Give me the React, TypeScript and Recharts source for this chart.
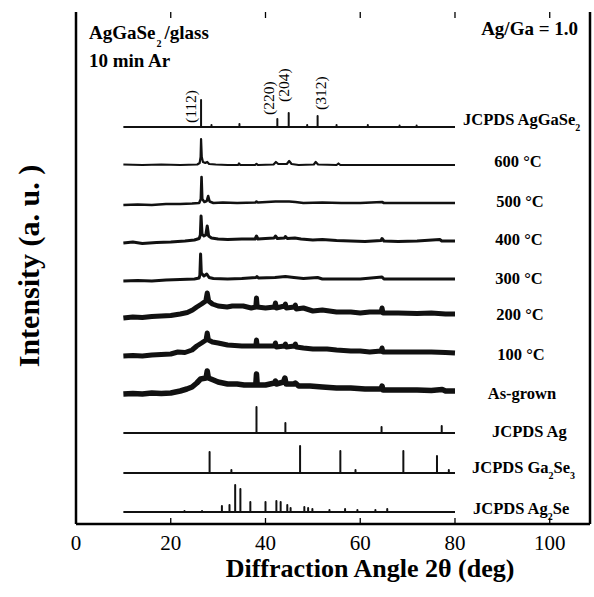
import React from 'react';
import { LineChart, Line, XAxis, YAxis } from 'recharts';

const SERIF = "'Liberation Serif', 'Times New Roman', Times, serif";

const TWO_THETA_TICKS = [0, 20, 40, 60, 80, 100];
const SCAN_RANGE: [number, number] = [10, 80];

// Reference stick patterns: [2θ, relative intensity, (hkl) tag]
type Stick = [number, number, string?];
// Measured scans: [2θ, intensity above the trace baseline]
type Pt = [number, number];

const JCPDS_AGGASE2: Stick[] = [
  [26.4, 27, '(112)'], [28.6, 2], [34.5, 3], [42.5, 8, '(220)'], [44.9, 14, '(204)'],
  [48.8, 2], [51.0, 11, '(312)'], [55.0, 2], [61.6, 2], [68.3, 1.5], [71.9, 1.5],
];

const SCAN_600: Pt[] = [
  [10, 0.5], [14, 0], [18, 0.5], [22, 0], [25.6, 0.5], [26.1, 2], [26.3, 8], [26.4, 26], [26.55, 8],
  [26.8, 3], [27.3, 2], [27.7, 3], [28.1, 1], [29.5, 0.5], [32, 0], [34.2, 0], [34.4, 1.5], [34.7, 0],
  [37.8, 0], [38.1, 1.2], [38.4, 0], [41.7, 0.5], [42.2, 3], [42.7, 1], [44.5, 1], [45.0, 4], [45.5, 1],
  [47, 0], [50.2, 0.5], [50.6, 3], [51.1, 0.5], [55, 0], [55.4, 1.5], [55.8, 0], [62, 0], [70, 0], [80, 0],
];

const SCAN_500: Pt[] = [
  [10, -2], [13, -1.5], [16, -2], [19, -1], [22, -1], [24.5, -0.5], [26, 0], [26.35, 4], [26.5, 26],
  [26.65, 4], [27.1, 1], [27.6, 2], [27.9, 7], [28.2, 1.5], [29, 0], [31, 0.5], [34, 0], [37.9, 0.5],
  [38.1, 1.5], [38.4, 0.5], [42.1, 1.5], [44.2, 1.5], [45, 1.5], [46.3, 1], [48, 0], [52, 0.5], [56, 0],
  [60, 0], [64.6, 1], [65, 0], [70, 0], [75, 0], [80, 0],
];

const SCAN_400: Pt[] = [
  [10, -2], [12, -1], [14, -2.5], [17, -1.5], [20, -1], [23, 0], [25, 1], [26, 2.5], [26.25, 6],
  [26.4, 25], [26.6, 7], [27.0, 5], [27.4, 6], [27.7, 15], [28.0, 5], [28.6, 3], [30, 2], [32, 1.5],
  [35, 2], [37.8, 2], [38.1, 5], [38.4, 2], [40, 2.5], [41.8, 3], [42.1, 5], [42.5, 2.5], [44, 3],
  [44.2, 4.5], [44.6, 2.5], [46.2, 3], [47.5, 2], [50, 1], [52, 1.5], [55, 0.5], [58, 0], [61, -0.5],
  [64.4, 0.5], [64.6, 2.5], [65, 0], [68, -0.5], [72, 0], [76.8, 1.5], [77.2, 0], [80, 0],
];

const SCAN_300: Pt[] = [
  [10, -2], [13, -1.5], [16, -2], [19, -1], [22, -0.5], [25, 0], [26, 1], [26.15, 4], [26.3, 25],
  [26.45, 6], [27, 3], [27.6, 5], [28.1, 1.5], [29, 0.5], [32, 0], [35, 0.5], [38, 1.5], [38.2, 2.5],
  [38.5, 1], [42, 1.5], [44.2, 2.5], [46, 1.5], [48, 0.5], [51, 1.5], [52, 0], [56, 0], [60, 0],
  [64.6, 2], [65, 0], [70, 0], [75, 0], [80, 0],
];

const SCAN_200: Pt[] = [
  [10, -4], [12, -3], [14, -3.5], [16, -2.5], [18, -2], [20, -1.5], [22, 0], [23.5, 1.5], [24.6, 4],
  [25.5, 7], [26.5, 10], [27.4, 13], [27.7, 21], [28.0, 13], [28.8, 10], [30, 8], [31.9, 7], [33, 8],
  [35.3, 8], [37, 6], [37.95, 7], [38.1, 16], [38.25, 7], [40, 6], [41.9, 7], [42.1, 11], [42.3, 6],
  [44, 8], [44.2, 10], [44.4, 6], [46.1, 7], [46.3, 9], [46.5, 5], [48, 6], [50, 3], [52, 4], [55, 2],
  [58, 2], [60, 1], [62, 2], [64.4, 2], [64.6, 6], [64.8, 1], [68, 1], [72, 0.5], [75, 1], [78, 0], [80, 0],
];

const SCAN_100: Pt[] = [
  [10, -3], [12, -2.5], [14, -3], [16, -2], [18, -1.5], [20, -1], [21.5, 1], [23, 0.5], [24.5, 3],
  [25.5, 7], [26.5, 10], [27.45, 13], [27.7, 20], [27.95, 13], [28.8, 11], [30, 10], [32, 8], [35, 7],
  [37.95, 7], [38.1, 13], [38.25, 7], [40, 7], [41.9, 7], [42.1, 10], [42.3, 6], [44, 7], [44.2, 9],
  [44.4, 6], [46.1, 7], [46.3, 9], [46.5, 6], [48, 5], [50, 4], [53, 4], [55, 3], [58, 2], [60, 2],
  [62, 1], [64.4, 2], [64.6, 5], [64.8, 1], [68, 1], [72, 1], [75, 1], [78, 0.5], [80, 0],
];

const SCAN_AS_GROWN: Pt[] = [
  [10, -3], [12, -2.5], [14, -3], [16, -2], [18, -2.5], [20, -2], [22, 0], [23.4, 2], [24.5, 4],
  [25.5, 8], [26.3, 12], [27.45, 13], [27.7, 20], [27.95, 13], [29, 11], [30, 9], [32, 7], [34, 7],
  [35.5, 6], [37.95, 6], [38.1, 17], [38.25, 6], [40, 6], [41.9, 8], [42.1, 10], [42.3, 7], [43.8, 9],
  [44.1, 13], [44.35, 7], [46, 7], [46.3, 8], [47, 5], [49.4, 5], [52, 4], [55, 3], [58, 3], [61, 2],
  [64.4, 2], [64.6, 5], [64.8, 1], [68.8, 1], [72, 1], [75, 0.5], [77.3, 1.5], [78, 0], [80, 0],
];

const JCPDS_AG: Stick[] = [[38.1, 26], [44.2, 10], [64.5, 6], [77.2, 7]];

const JCPDS_GA2SE3: Stick[] = [
  [28.2, 21], [32.8, 3], [47.3, 27], [55.8, 22], [59.0, 3], [69.1, 22], [76.2, 17], [78.7, 3],
];

const JCPDS_AG2SE: Stick[] = [
  [22.9, 1], [26.6, 1], [30.8, 6], [32.4, 7], [33.6, 27], [34.7, 23], [36.8, 10], [40.0, 10],
  [42.3, 11], [43.2, 10], [44.6, 7], [45.3, 4], [48.2, 5], [49.0, 4], [49.9, 3], [53.5, 2],
  [56.8, 3], [59.4, 2], [63.2, 2], [65.7, 3],
];

const SERIES_NAMES = [
  'JCPDS AgGaSe_2', '600 °C', '500 °C', '400 °C', '300 °C', '200 °C', '100 °C',
  'As-grown', 'JCPDS  Ag', 'JCPDS Ga_2Se_3', 'JCPDS Ag_2Se',
];

type P = { x: number; y: number; hkl?: string };

const fromSticks = (sticks: Stick[], base: number): P[] => {
  const pts: P[] = [{ x: SCAN_RANGE[0], y: base }];
  sticks.forEach(([t, h, hkl]) => {
    pts.push({ x: t, y: base }, { x: t, y: base + h, hkl }, { x: t, y: base });
  });
  pts.push({ x: SCAN_RANGE[1], y: base });
  return pts;
};

const fromScan = (scan: Pt[], base: number): P[] => scan.map(([t, v]) => ({ x: t, y: base + v }));

// Stacking offsets (trace baselines), line weights and label placement for each trace
const TRACES = [
  { pts: (b: number) => fromSticks(JCPDS_AGGASE2, b), base: 397, width: 2, lx: 8, ly: -8, anchor: 'start' },
  { pts: (b: number) => fromScan(SCAN_600, b), base: 359, width: 2.2, lx: 63, ly: -4, anchor: 'middle' },
  { pts: (b: number) => fromScan(SCAN_500, b), base: 321, width: 2.6, lx: 65, ly: -2, anchor: 'middle' },
  { pts: (b: number) => fromScan(SCAN_400, b), base: 283, width: 3, lx: 64, ly: -2, anchor: 'middle' },
  { pts: (b: number) => fromScan(SCAN_300, b), base: 245, width: 3, lx: 64, ly: -1, anchor: 'middle' },
  { pts: (b: number) => fromScan(SCAN_200, b), base: 210, width: 5, lx: 65, ly: 0, anchor: 'middle' },
  { pts: (b: number) => fromScan(SCAN_100, b), base: 171, width: 5, lx: 66, ly: 1, anchor: 'middle' },
  { pts: (b: number) => fromScan(SCAN_AS_GROWN, b), base: 133, width: 5.5, lx: 67, ly: 2, anchor: 'middle' },
  { pts: (b: number) => fromSticks(JCPDS_AG, b), base: 91, width: 2, lx: 37, ly: -2, anchor: 'start' },
  { pts: (b: number) => fromSticks(JCPDS_GA2SE3, b), base: 51, width: 2, lx: 17, ly: -6, anchor: 'start' },
  { pts: (b: number) => fromSticks(JCPDS_AG2SE, b), base: 12, width: 2, lx: 18, ly: -4, anchor: 'start' },
];

// Offset of each rotated (hkl) tag from the top of its stick
const HKL_SHIFT: Record<string, [number, number]> = {
  '(112)': [-11, 23],
  '(220)': [-9, -4],
  '(204)': [-5, -11],
  '(312)': [3, -6],
};

const PLOT_HEIGHT = 512;

const renderName = (name: string) => {
  const parts = name.split(/(_\d)/).filter((s) => s.length > 0);
  let sub = false;
  return parts.map((p, i) => {
    if (p.startsWith('_')) {
      const el = (
        <tspan key={i} dy={sub ? 0 : 8} fontSize={10}>
          {p.slice(1)}
        </tspan>
      );
      sub = true;
      return el;
    }
    const el = (
      <tspan key={i} dy={sub ? -8 : 0}>
        {p}
      </tspan>
    );
    sub = false;
    return el;
  });
};

// Inward tick marks on the bottom axis, mirrored on the top frame edge
const BottomTick = (props: any) => {
  const { x, y, payload } = props;
  const top = y - PLOT_HEIGHT;
  return (
    <g>
      <line x1={x} y1={y} x2={x} y2={y - 6} stroke="#000" strokeWidth={1.3} />
      {payload.value > 0 && <line x1={x} y1={top} x2={x} y2={top + 6} stroke="#000" strokeWidth={1.3} />}
      <text x={x} y={y + 26} textAnchor="middle" fontSize={21} fontFamily={SERIF} fill="#000">
        {payload.value}
      </text>
    </g>
  );
};

const XTitle = () => (
  <text x={370} y={577} textAnchor="middle" fontSize={26} fontWeight="bold" fontFamily={SERIF} fill="#000">
    Diffraction Angle 2θ (deg)
  </text>
);

const YTitle = () => (
  <text
    x={28}
    y={266}
    transform="rotate(-90, 28, 266)"
    textAnchor="middle"
    dominantBaseline="central"
    fontSize={30}
    fontWeight="bold"
    fontFamily={SERIF}
    fill="#000"
  >
    Intensity (a. u. )
  </text>
);

export default function App() {
  const series = TRACES.map((t, i) => ({ ...t, name: SERIES_NAMES[i], data: t.pts(t.base) }));

  const makeDot = (s: (typeof series)[number]) => (props: any) => {
    const { cx, cy, index, payload } = props;
    const key = `${s.name}-${index}`;
    if (index === s.data.length - 1) {
      return (
        <text
          key={key}
          x={cx + s.lx}
          y={cy + s.ly}
          textAnchor={s.anchor as any}
          dominantBaseline="central"
          fontSize={16.5}
          fontWeight="bold"
          fontFamily={SERIF}
          fill="#000"
        >
          {renderName(s.name)}
        </text>
      );
    }
    if (payload && payload.hkl) {
      const [dx, dy] = HKL_SHIFT[payload.hkl] || [0, 0];
      const x = cx + dx;
      const y = cy + dy;
      return (
        <text
          key={key}
          x={x}
          y={y}
          transform={`rotate(-90, ${x}, ${y})`}
          textAnchor="start"
          dominantBaseline="central"
          fontSize={15.5}
          fontFamily={SERIF}
          fill="#000"
        >
          {payload.hkl}
        </text>
      );
    }
    return <g key={key} />;
  };

  return (
    <div style={{ position: 'absolute', left: 0, top: 0, width: 594, height: 597, background: '#fff' }}>
      <LineChart width={594} height={597} margin={{ top: 12, right: 0, bottom: 0, left: 0 }}>
        <XAxis
          xAxisId="b"
          type="number"
          dataKey="x"
          domain={[0, 108.5]}
          ticks={TWO_THETA_TICKS}
          allowDataOverflow
          height={73}
          axisLine={{ stroke: '#000', strokeWidth: 2.5 }}
          tickLine={false}
          tickSize={0}
          tickMargin={0}
          tick={<BottomTick />}
          interval={0}
          label={<XTitle />}
        />
        <XAxis
          xAxisId="t"
          orientation="top"
          type="number"
          dataKey="x"
          domain={[0, 108.5]}
          allowDataOverflow
          height={0}
          axisLine={{ stroke: '#000', strokeWidth: 2.5 }}
          tickLine={false}
          tick={false}
        />
        <YAxis
          yAxisId="l"
          type="number"
          domain={[0, PLOT_HEIGHT]}
          allowDataOverflow
          width={76}
          axisLine={{ stroke: '#000', strokeWidth: 2.5 }}
          tick={false}
          tickLine={false}
          label={<YTitle />}
        />
        <YAxis
          yAxisId="r"
          orientation="right"
          type="number"
          domain={[0, PLOT_HEIGHT]}
          allowDataOverflow
          width={4}
          axisLine={{ stroke: '#000', strokeWidth: 2.5 }}
          tick={false}
          tickLine={false}
        />
        {series.map((s) => (
          <Line
            key={s.name}
            xAxisId="b"
            yAxisId="l"
            data={s.data}
            dataKey="y"
            name={s.name}
            type="linear"
            stroke="#111"
            strokeWidth={s.width}
            strokeLinejoin="round"
            dot={makeDot(s)}
            activeDot={false}
            isAnimationActive={false}
          />
        ))}
      </LineChart>
      <svg
        width={594}
        height={597}
        style={{ position: 'absolute', left: 0, top: 0, pointerEvents: 'none' }}
      >
        <text x={89} y={39} fontSize={19} fontWeight="bold" fontFamily={SERIF} fill="#000">
          AgGaSe
          <tspan dx={1} dy={8} fontSize={10}>2</tspan>
          <tspan dx={3} dy={-8}>/glass</tspan>
        </text>
        <text x={89} y={67} fontSize={19} fontWeight="bold" fontFamily={SERIF} fill="#000">
          10 min Ar
        </text>
        <text x={578} y={35} textAnchor="end" fontSize={19} fontWeight="bold" fontFamily={SERIF} fill="#000">
          Ag/Ga = 1.0
        </text>
      </svg>
    </div>
  );
}
